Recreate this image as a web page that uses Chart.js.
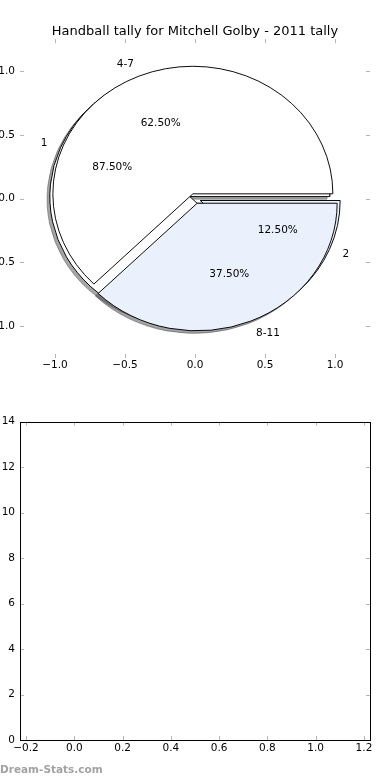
<!DOCTYPE html>
<html>
<head>
<meta charset="utf-8">
<script src="https://cdn.jsdelivr.net/npm/chart.js"></script>
<style>
  html, body { margin: 0; padding: 0; background: #ffffff; }
  #wrap { position: relative; width: 390px; height: 780px; overflow: hidden; background: #ffffff; }
  #wrap canvas { position: absolute; left: 0; }
  #watermark { position: absolute; left: 0; top: 763px; font: bold 10.5px "DejaVu Sans", sans-serif; color: #a2a2a2; white-space: nowrap; }
</style>
</head>
<body>
<div id="wrap">
  <canvas id="shadowInner" width="390" height="380" style="top:0"></canvas>
  <canvas id="shadowOuter" width="390" height="380" style="top:0"></canvas>
  <canvas id="pieInner" width="390" height="380" style="top:0"></canvas>
  <canvas id="pieOuter" width="390" height="380" style="top:0"></canvas>
  <canvas id="axesTop" width="390" height="380" style="top:0"></canvas>
  <canvas id="axesBottom" width="390" height="400" style="top:380px"></canvas>
  <div id="watermark">Dream-Stats.com</div>
</div>
<script>
// ---------------- data ----------------
const chartTitle = 'Handball tally for Mitchell Golby - 2011 tally';
const innerLabels = ['1', '2'];
const innerValues = [7, 1];          // 87.50% / 12.50%
const outerLabels = ['4-7', '8-11'];
const outerValues = [5, 3];          // 62.50% / 37.50%
const pieTickValues = [-1.0, -0.5, 0.0, 0.5, 1.0];
const barXTickValues = [-0.2, 0.0, 0.2, 0.4, 0.6, 0.8, 1.0, 1.2];
const barYTickValues = [0, 2, 4, 6, 8, 10, 12, 14];

// ---------------- style ----------------
const FONT = '"DejaVu Sans", "Liberation Sans", sans-serif';
const SLICE_COLORS = ['#ffffff', '#eaf0fc'];
const EXPLODE_INNER = [0.04, 0.04];
const EXPLODE_OUTER = [0.04, 0.04];
const SHADOW_SHIFT = 0.02;
const TICK_COLOR = '#b4b4b4';

Chart.defaults.font.family = FONT;
Chart.defaults.color = '#000000';

const fmt1 = v => { const n = Math.abs(v) < 1e-9 ? 0 : v; return n.toFixed(1).replace('-', '\u2212'); };

function shadowOf(hex) {
  const r = parseInt(hex.slice(1, 3), 16), g = parseInt(hex.slice(3, 5), 16), b = parseInt(hex.slice(5, 7), 16);
  return `rgba(${Math.round(r * 0.3)},${Math.round(g * 0.3)},${Math.round(b * 0.3)},0.5)`;
}

function inwardTicks(frame) {
  return {
    id: 'inwardTicks',
    afterDraw(chart) {
      const { ctx, chartArea: a, scales: { x, y } } = chart;
      const L = 4;
      ctx.save();
      ctx.strokeStyle = TICK_COLOR;
      ctx.lineWidth = 1;
      ctx.beginPath();
      x.ticks.forEach(t => {
        const px = Math.round(x.getPixelForValue(t.value)) + 0.5;
        ctx.moveTo(px, a.top); ctx.lineTo(px, a.top + L);
        ctx.moveTo(px, a.bottom); ctx.lineTo(px, a.bottom - L);
      });
      y.ticks.forEach(t => {
        const py = Math.round(y.getPixelForValue(t.value)) + 0.5;
        ctx.moveTo(a.left, py); ctx.lineTo(a.left + L, py);
        ctx.moveTo(a.right, py); ctx.lineTo(a.right - L, py);
      });
      ctx.stroke();
      if (frame) {
        ctx.strokeStyle = '#000000';
        ctx.strokeRect(Math.round(a.left) + 0.5, Math.round(a.top) + 0.5,
          Math.round(a.right) - Math.round(a.left), Math.round(a.bottom) - Math.round(a.top));
      }
      ctx.restore();
    }
  };
}

const pieText = {
  id: 'pieText',
  afterDraw(chart) {
    const { ctx, scales: { x, y } } = chart;
    ctx.save();
    ctx.fillStyle = '#000000';
    ctx.font = '10.5px ' + FONT;
    ctx.textBaseline = 'middle';
    [[innerLabels, innerValues, EXPLODE_INNER], [outerLabels, outerValues, EXPLODE_OUTER]].forEach(([labels, values, explode]) => {
      const total = values.reduce((s, v) => s + v, 0);
      let acc = 0;
      values.forEach((v, i) => {
        const frac = v / total;
        const mid = 2 * Math.PI * (acc + frac / 2);
        acc += frac;
        const c = Math.cos(mid), s = Math.sin(mid);
        const ex = explode[i] * c, ey = explode[i] * s;
        const lx = ex + 1.1 * c, ly = ey + 1.1 * s;
        ctx.textAlign = lx > 0 ? 'left' : 'right';
        ctx.fillText(labels[i], x.getPixelForValue(lx), y.getPixelForValue(ly));
        ctx.textAlign = 'center';
        ctx.fillText((frac * 100).toFixed(2) + '%', x.getPixelForValue(ex + 0.6 * c), y.getPixelForValue(ey + 0.6 * s));
      });
    });
    ctx.restore();
  }
};

// ---------------- top axes (pie frame) ----------------
const topAxes = new Chart(document.getElementById('axesTop'), {
  type: 'scatter',
  data: { datasets: [] },
  options: {
    responsive: false, animation: false, events: [],
    layout: { padding: 0 },
    plugins: {
      legend: { display: false }, tooltip: { enabled: false },
      title: { display: true, text: chartTitle, color: '#000000',
               font: { family: FONT, size: 13, weight: 'normal' }, padding: { top: 23.5, bottom: 0 } }
    },
    scales: {
      x: {
        type: 'linear', position: 'bottom', min: -1.25, max: 1.25,
        grid: { display: false, drawTicks: false }, border: { display: false },
        afterBuildTicks: s => { s.ticks = pieTickValues.map(v => ({ value: v })); },
        afterFit: s => { s.height = 22; },
        ticks: { callback: v => fmt1(v), padding: 1, font: { size: 10.5 }, color: '#000000', maxRotation: 0, autoSkip: false }
      },
      y: {
        type: 'linear', position: 'left', min: -1.25, max: 1.25,
        grid: { display: false, drawTicks: false }, border: { display: false },
        afterBuildTicks: s => { s.ticks = pieTickValues.map(v => ({ value: v })); },
        afterFit: s => { s.width = 20; },
        ticks: { callback: v => fmt1(v), padding: 5, font: { size: 10.5 }, color: '#000000', autoSkip: false }
      },
      yRight: {
        type: 'linear', position: 'right', min: -1.25, max: 1.25, display: true,
        grid: { display: false, drawTicks: false }, border: { display: false },
        afterFit: s => { s.width = 20; },
        ticks: { display: false }
      }
    }
  },
  plugins: [inwardTicks(false), pieText]
});

const xs = topAxes.scales.x, ys = topAxes.scales.y;
const geom = {
  cx: xs.getPixelForValue(0), cy: ys.getPixelForValue(0),
  rx: xs.getPixelForValue(1) - xs.getPixelForValue(0),
  ry: ys.getPixelForValue(0) - ys.getPixelForValue(1)
};

function wedgePlugin(explode, shift) {
  return {
    id: 'wedgeLayout',
    beforeDatasetDraw(chart, args) {
      const ctx = chart.ctx;
      const arcs = args.meta.data;
      ctx.save();
      ctx.translate(geom.cx + shift[0] * geom.rx, geom.cy - shift[1] * geom.ry);
      ctx.scale(1, geom.ry / geom.rx);
      for (let i = arcs.length - 1; i >= 0; i--) {
        const arc = arcs[i];
        const mid = (arc.startAngle + arc.endAngle) / 2;
        const e = explode[i] * geom.rx;
        ctx.save();
        ctx.translate(Math.cos(mid) * e - arc.x, Math.sin(mid) * e - arc.y);
        arc.draw(ctx);
        ctx.restore();
      }
      ctx.restore();
      return false;
    }
  };
}

function addPie(canvasId, labels, values, explode, isShadow) {
  const order = values.map((_, i) => i).reverse(); // Chart.js runs clockwise, matplotlib counter-clockwise
  const fills = isShadow ? SLICE_COLORS.map(shadowOf) : SLICE_COLORS;
  return new Chart(document.getElementById(canvasId), {
    type: 'pie',
    data: {
      labels: order.map(i => labels[i]),
      datasets: [{
        data: order.map(i => values[i]),
        backgroundColor: order.map(i => fills[i % fills.length]),
        borderColor: isShadow ? order.map(i => fills[i % fills.length]) : '#000000',
        borderWidth: 1,
        borderJoinStyle: 'miter',
        radius: geom.rx,
        rotation: 90,
        clip: false
      }]
    },
    options: {
      responsive: false, animation: false, events: [],
      plugins: { legend: { display: false }, tooltip: { enabled: false } }
    },
    plugins: [wedgePlugin(order.map(i => explode[i]), isShadow ? [-SHADOW_SHIFT, -SHADOW_SHIFT] : [0, 0])]
  });
}

addPie('shadowInner', innerLabels, innerValues, EXPLODE_INNER, true);
addPie('shadowOuter', outerLabels, outerValues, EXPLODE_OUTER, true);
addPie('pieInner', innerLabels, innerValues, EXPLODE_INNER, false);
addPie('pieOuter', outerLabels, outerValues, EXPLODE_OUTER, false);

// ---------------- bottom (empty) axes ----------------
new Chart(document.getElementById('axesBottom'), {
  type: 'scatter',
  data: { datasets: [] },
  options: {
    responsive: false, animation: false, events: [],
    layout: { padding: { left: 0, right: 20, top: 41.7, bottom: 0 } },
    plugins: { legend: { display: false }, tooltip: { enabled: false } },
    scales: {
      x: {
        type: 'linear', position: 'bottom', min: -0.225, max: 1.225,
        grid: { display: false, drawTicks: false }, border: { display: false },
        afterBuildTicks: s => { s.ticks = barXTickValues.map(v => ({ value: v })); },
        afterFit: s => { s.height = 40; },
        ticks: { callback: v => fmt1(v), padding: 2, font: { size: 10.5 }, color: '#000000', maxRotation: 0, autoSkip: false }
      },
      y: {
        type: 'linear', position: 'left', min: 0, max: 14,
        grid: { display: false, drawTicks: false }, border: { display: false },
        afterBuildTicks: s => { s.ticks = barYTickValues.map(v => ({ value: v })); },
        afterFit: s => { s.width = 20; },
        ticks: { callback: v => String(v), padding: 5, font: { size: 10.5 }, color: '#000000', autoSkip: false }
      }
    }
  },
  plugins: [inwardTicks(true)]
});
</script>
</body>
</html>
